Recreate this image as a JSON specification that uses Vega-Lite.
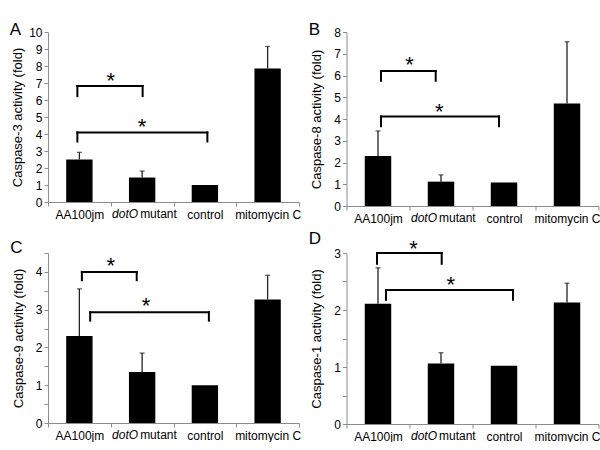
{
"$schema":"https://vega.github.io/schema/vega-lite/v6.json",
"background":"white",
"padding":{"left":9,"top":21,"right":0,"bottom":0},
"align":"each",
"columns":2,
"spacing":{"row":6,"column":7.5},
"datasets":{
"bars":[
{"panel":"A","group":"AA100jm","value":2.5,"upper":2.92},
{"panel":"A","group":"dotO mutant","value":1.44,"upper":1.82},
{"panel":"A","group":"control","value":1.0,"upper":null},
{"panel":"A","group":"mitomycin C","value":7.85,"upper":9.15},
{"panel":"B","group":"AA100jm","value":2.3,"upper":3.45},
{"panel":"B","group":"dotO mutant","value":1.12,"upper":1.43},
{"panel":"B","group":"control","value":1.08,"upper":null},
{"panel":"B","group":"mitomycin C","value":4.71,"upper":7.55},
{"panel":"C","group":"AA100jm","value":2.3,"upper":3.55},
{"panel":"C","group":"dotO mutant","value":1.35,"upper":1.85},
{"panel":"C","group":"control","value":1.0,"upper":null},
{"panel":"C","group":"mitomycin C","value":3.27,"upper":3.91},
{"panel":"D","group":"AA100jm","value":2.11,"upper":2.74},
{"panel":"D","group":"dotO mutant","value":1.06,"upper":1.25},
{"panel":"D","group":"control","value":1.02,"upper":null},
{"panel":"D","group":"mitomycin C","value":2.13,"upper":2.47}
],
"brackets":[
{"panel":"A","id":1,"from":"AA100jm","to":"dotO mutant","top":6.82,"low":6.23,"star":7.47},
{"panel":"A","id":2,"from":"AA100jm","to":"control","top":4.09,"low":3.56,"star":4.78},
{"panel":"B","id":1,"from":"AA100jm","to":"dotO mutant","top":6.21,"low":5.76,"star":6.74},
{"panel":"B","id":2,"from":"AA100jm","to":"control","top":4.12,"low":3.67,"star":4.62},
{"panel":"C","id":1,"from":"AA100jm","to":"dotO mutant","top":4.0,"low":3.78,"star":4.31},
{"panel":"C","id":2,"from":"AA100jm","to":"control","top":2.93,"low":2.71,"star":3.26},
{"panel":"D","id":1,"from":"AA100jm","to":"dotO mutant","top":3.0,"low":2.81,"star":3.17},
{"panel":"D","id":2,"from":"AA100jm","to":"control","top":2.35,"low":2.18,"star":2.54}
]
},
"concat":[
{
"width":251,"height":170,
"title":{"text":"A","anchor":"start","frame":"bounds","offset":-26,"baseline":"alphabetic","fontSize":17,"fontWeight":"normal","color":"black","dx":-2},
"layer":[
{"data":{"name":"bars"},"transform":[{"filter":"datum.panel == 'A'"}],"mark":{"type":"bar","color":"black","width":{"band":0.42}},"encoding":{"x":{"field":"group","type":"nominal","scale":{"domain":["AA100jm","dotO mutant","control","mitomycin C"],"paddingInner":0,"paddingOuter":0},"axis":{"title":null,"labelExpr":"datum.value == 'dotO mutant' ? '' : datum.label"}},"y":{"field":"value","type":"quantitative","scale":{"domain":[0,10],"nice":false},"axis":{"title":"Caspase-3 activity (fold)","tickCount":10,"labelOverlap":false,"titlePadding":4}}}},
{"data":{"name":"bars"},"transform":[{"filter":"datum.panel == 'A' && isValid(datum.upper)"}],"mark":{"type":"rule","color":"#222","strokeWidth":1.3},"encoding":{"x":{"field":"group","type":"nominal","scale":{"domain":["AA100jm","dotO mutant","control","mitomycin C"],"paddingInner":0,"paddingOuter":0}},"y":{"field":"value","type":"quantitative","scale":{"domain":[0,10],"nice":false}},"y2":{"field":"upper"}}},
{"data":{"name":"bars"},"transform":[{"filter":"datum.panel == 'A' && isValid(datum.upper)"}],"mark":{"type":"tick","color":"#222","size":5,"thickness":1.3},"encoding":{"x":{"field":"group","type":"nominal","scale":{"domain":["AA100jm","dotO mutant","control","mitomycin C"],"paddingInner":0,"paddingOuter":0}},"y":{"field":"upper","type":"quantitative","scale":{"domain":[0,10],"nice":false}}}},
{"data":{"name":"bars"},"transform":[{"filter":"datum.panel == 'A' && datum.group == 'dotO mutant'"}],"mark":{"type":"text","text":"dotO","fontStyle":"italic","fontSize":12,"align":"right","baseline":"top","dx":-4,"dy":7},"encoding":{"x":{"field":"group","type":"nominal","scale":{"domain":["AA100jm","dotO mutant","control","mitomycin C"],"paddingInner":0,"paddingOuter":0}},"y":{"datum":0,"type":"quantitative","scale":{"domain":[0,10],"nice":false}}}},
{"data":{"name":"bars"},"transform":[{"filter":"datum.panel == 'A' && datum.group == 'dotO mutant'"}],"mark":{"type":"text","text":"mutant","fontSize":12,"align":"left","baseline":"top","dx":-2,"dy":7},"encoding":{"x":{"field":"group","type":"nominal","scale":{"domain":["AA100jm","dotO mutant","control","mitomycin C"],"paddingInner":0,"paddingOuter":0}},"y":{"datum":0,"type":"quantitative","scale":{"domain":[0,10],"nice":false}}}},
{"data":{"name":"brackets"},"transform":[{"filter":"datum.panel == 'A' && datum.id == 1"}],"mark":{"type":"rule","color":"black","strokeWidth":2,"strokeCap":"square","xOffset":-2,"x2Offset":0.5},"encoding":{"x":{"field":"from","type":"nominal","scale":{"domain":["AA100jm","dotO mutant","control","mitomycin C"],"paddingInner":0,"paddingOuter":0}},"x2":{"field":"to"},"y":{"field":"top","type":"quantitative","scale":{"domain":[0,10],"nice":false}}}},
{"data":{"name":"brackets"},"transform":[{"filter":"datum.panel == 'A' && datum.id == 1"}],"mark":{"type":"rule","color":"black","strokeWidth":2,"strokeCap":"square","xOffset":-2},"encoding":{"x":{"field":"from","type":"nominal","scale":{"domain":["AA100jm","dotO mutant","control","mitomycin C"],"paddingInner":0,"paddingOuter":0}},"y":{"field":"low","type":"quantitative","scale":{"domain":[0,10],"nice":false}},"y2":{"field":"top"}}},
{"data":{"name":"brackets"},"transform":[{"filter":"datum.panel == 'A' && datum.id == 1"}],"mark":{"type":"rule","color":"black","strokeWidth":2,"strokeCap":"square","xOffset":0.5},"encoding":{"x":{"field":"to","type":"nominal","scale":{"domain":["AA100jm","dotO mutant","control","mitomycin C"],"paddingInner":0,"paddingOuter":0}},"y":{"field":"low","type":"quantitative","scale":{"domain":[0,10],"nice":false}},"y2":{"field":"top"}}},
{"data":{"name":"brackets"},"transform":[{"filter":"datum.panel == 'A' && datum.id == 1"}],"mark":{"type":"text","text":"*","fontSize":22,"baseline":"middle","dy":6,"xOffset":0},"encoding":{"x":{"field":"from","type":"nominal","bandPosition":1,"scale":{"domain":["AA100jm","dotO mutant","control","mitomycin C"],"paddingInner":0,"paddingOuter":0}},"y":{"field":"star","type":"quantitative","scale":{"domain":[0,10],"nice":false}}}},
{"data":{"name":"brackets"},"transform":[{"filter":"datum.panel == 'A' && datum.id == 2"}],"mark":{"type":"rule","color":"black","strokeWidth":2,"strokeCap":"square","xOffset":-2,"x2Offset":2.5},"encoding":{"x":{"field":"from","type":"nominal","scale":{"domain":["AA100jm","dotO mutant","control","mitomycin C"],"paddingInner":0,"paddingOuter":0}},"x2":{"field":"to"},"y":{"field":"top","type":"quantitative","scale":{"domain":[0,10],"nice":false}}}},
{"data":{"name":"brackets"},"transform":[{"filter":"datum.panel == 'A' && datum.id == 2"}],"mark":{"type":"rule","color":"black","strokeWidth":2,"strokeCap":"square","xOffset":-2},"encoding":{"x":{"field":"from","type":"nominal","scale":{"domain":["AA100jm","dotO mutant","control","mitomycin C"],"paddingInner":0,"paddingOuter":0}},"y":{"field":"low","type":"quantitative","scale":{"domain":[0,10],"nice":false}},"y2":{"field":"top"}}},
{"data":{"name":"brackets"},"transform":[{"filter":"datum.panel == 'A' && datum.id == 2"}],"mark":{"type":"rule","color":"black","strokeWidth":2,"strokeCap":"square","xOffset":2.5},"encoding":{"x":{"field":"to","type":"nominal","scale":{"domain":["AA100jm","dotO mutant","control","mitomycin C"],"paddingInner":0,"paddingOuter":0}},"y":{"field":"low","type":"quantitative","scale":{"domain":[0,10],"nice":false}},"y2":{"field":"top"}}},
{"data":{"name":"brackets"},"transform":[{"filter":"datum.panel == 'A' && datum.id == 2"}],"mark":{"type":"text","text":"*","fontSize":22,"baseline":"middle","dy":6,"xOffset":0},"encoding":{"x":{"field":"from","type":"nominal","bandPosition":1.5,"scale":{"domain":["AA100jm","dotO mutant","control","mitomycin C"],"paddingInner":0,"paddingOuter":0}},"y":{"field":"star","type":"quantitative","scale":{"domain":[0,10],"nice":false}}}}
]
},
{
"width":252,"height":174,
"title":{"text":"B","anchor":"start","frame":"bounds","offset":-26,"baseline":"alphabetic","fontSize":17,"fontWeight":"normal","color":"black","dx":-2},
"layer":[
{"data":{"name":"bars"},"transform":[{"filter":"datum.panel == 'B'"}],"mark":{"type":"bar","color":"black","width":{"band":0.42}},"encoding":{"x":{"field":"group","type":"nominal","scale":{"domain":["AA100jm","dotO mutant","control","mitomycin C"],"paddingInner":0,"paddingOuter":0},"axis":{"title":null,"labelExpr":"datum.value == 'dotO mutant' ? '' : datum.label"}},"y":{"field":"value","type":"quantitative","scale":{"domain":[0,8],"nice":false},"axis":{"title":"Caspase-8 activity (fold)","tickCount":8,"labelOverlap":false,"titlePadding":10}}}},
{"data":{"name":"bars"},"transform":[{"filter":"datum.panel == 'B' && isValid(datum.upper)"}],"mark":{"type":"rule","color":"#222","strokeWidth":1.3},"encoding":{"x":{"field":"group","type":"nominal","scale":{"domain":["AA100jm","dotO mutant","control","mitomycin C"],"paddingInner":0,"paddingOuter":0}},"y":{"field":"value","type":"quantitative","scale":{"domain":[0,8],"nice":false}},"y2":{"field":"upper"}}},
{"data":{"name":"bars"},"transform":[{"filter":"datum.panel == 'B' && isValid(datum.upper)"}],"mark":{"type":"tick","color":"#222","size":5,"thickness":1.3},"encoding":{"x":{"field":"group","type":"nominal","scale":{"domain":["AA100jm","dotO mutant","control","mitomycin C"],"paddingInner":0,"paddingOuter":0}},"y":{"field":"upper","type":"quantitative","scale":{"domain":[0,8],"nice":false}}}},
{"data":{"name":"bars"},"transform":[{"filter":"datum.panel == 'B' && datum.group == 'dotO mutant'"}],"mark":{"type":"text","text":"dotO","fontStyle":"italic","fontSize":12,"align":"right","baseline":"top","dx":-4,"dy":7},"encoding":{"x":{"field":"group","type":"nominal","scale":{"domain":["AA100jm","dotO mutant","control","mitomycin C"],"paddingInner":0,"paddingOuter":0}},"y":{"datum":0,"type":"quantitative","scale":{"domain":[0,8],"nice":false}}}},
{"data":{"name":"bars"},"transform":[{"filter":"datum.panel == 'B' && datum.group == 'dotO mutant'"}],"mark":{"type":"text","text":"mutant","fontSize":12,"align":"left","baseline":"top","dx":-2,"dy":7},"encoding":{"x":{"field":"group","type":"nominal","scale":{"domain":["AA100jm","dotO mutant","control","mitomycin C"],"paddingInner":0,"paddingOuter":0}},"y":{"datum":0,"type":"quantitative","scale":{"domain":[0,8],"nice":false}}}},
{"data":{"name":"brackets"},"transform":[{"filter":"datum.panel == 'B' && datum.id == 1"}],"mark":{"type":"rule","color":"black","strokeWidth":2,"strokeCap":"square","xOffset":3,"x2Offset":-5.3},"encoding":{"x":{"field":"from","type":"nominal","scale":{"domain":["AA100jm","dotO mutant","control","mitomycin C"],"paddingInner":0,"paddingOuter":0}},"x2":{"field":"to"},"y":{"field":"top","type":"quantitative","scale":{"domain":[0,8],"nice":false}}}},
{"data":{"name":"brackets"},"transform":[{"filter":"datum.panel == 'B' && datum.id == 1"}],"mark":{"type":"rule","color":"black","strokeWidth":2,"strokeCap":"square","xOffset":3},"encoding":{"x":{"field":"from","type":"nominal","scale":{"domain":["AA100jm","dotO mutant","control","mitomycin C"],"paddingInner":0,"paddingOuter":0}},"y":{"field":"low","type":"quantitative","scale":{"domain":[0,8],"nice":false}},"y2":{"field":"top"}}},
{"data":{"name":"brackets"},"transform":[{"filter":"datum.panel == 'B' && datum.id == 1"}],"mark":{"type":"rule","color":"black","strokeWidth":2,"strokeCap":"square","xOffset":-5.3},"encoding":{"x":{"field":"to","type":"nominal","scale":{"domain":["AA100jm","dotO mutant","control","mitomycin C"],"paddingInner":0,"paddingOuter":0}},"y":{"field":"low","type":"quantitative","scale":{"domain":[0,8],"nice":false}},"y2":{"field":"top"}}},
{"data":{"name":"brackets"},"transform":[{"filter":"datum.panel == 'B' && datum.id == 1"}],"mark":{"type":"text","text":"*","fontSize":22,"baseline":"middle","dy":6,"xOffset":0},"encoding":{"x":{"field":"from","type":"nominal","bandPosition":1,"scale":{"domain":["AA100jm","dotO mutant","control","mitomycin C"],"paddingInner":0,"paddingOuter":0}},"y":{"field":"star","type":"quantitative","scale":{"domain":[0,8],"nice":false}}}},
{"data":{"name":"brackets"},"transform":[{"filter":"datum.panel == 'B' && datum.id == 2"}],"mark":{"type":"rule","color":"black","strokeWidth":2,"strokeCap":"square","xOffset":3,"x2Offset":-5},"encoding":{"x":{"field":"from","type":"nominal","scale":{"domain":["AA100jm","dotO mutant","control","mitomycin C"],"paddingInner":0,"paddingOuter":0}},"x2":{"field":"to"},"y":{"field":"top","type":"quantitative","scale":{"domain":[0,8],"nice":false}}}},
{"data":{"name":"brackets"},"transform":[{"filter":"datum.panel == 'B' && datum.id == 2"}],"mark":{"type":"rule","color":"black","strokeWidth":2,"strokeCap":"square","xOffset":3},"encoding":{"x":{"field":"from","type":"nominal","scale":{"domain":["AA100jm","dotO mutant","control","mitomycin C"],"paddingInner":0,"paddingOuter":0}},"y":{"field":"low","type":"quantitative","scale":{"domain":[0,8],"nice":false}},"y2":{"field":"top"}}},
{"data":{"name":"brackets"},"transform":[{"filter":"datum.panel == 'B' && datum.id == 2"}],"mark":{"type":"rule","color":"black","strokeWidth":2,"strokeCap":"square","xOffset":-5},"encoding":{"x":{"field":"to","type":"nominal","scale":{"domain":["AA100jm","dotO mutant","control","mitomycin C"],"paddingInner":0,"paddingOuter":0}},"y":{"field":"low","type":"quantitative","scale":{"domain":[0,8],"nice":false}},"y2":{"field":"top"}}},
{"data":{"name":"brackets"},"transform":[{"filter":"datum.panel == 'B' && datum.id == 2"}],"mark":{"type":"text","text":"*","fontSize":22,"baseline":"middle","dy":6,"xOffset":-1.7},"encoding":{"x":{"field":"from","type":"nominal","bandPosition":1.5,"scale":{"domain":["AA100jm","dotO mutant","control","mitomycin C"],"paddingInner":0,"paddingOuter":0}},"y":{"field":"star","type":"quantitative","scale":{"domain":[0,8],"nice":false}}}}
]
},
{
"width":251,"height":170,
"title":{"text":"C","anchor":"start","frame":"bounds","offset":-23,"baseline":"alphabetic","fontSize":17,"fontWeight":"normal","color":"black","dx":-2},
"layer":[
{"data":{"name":"bars"},"transform":[{"filter":"datum.panel == 'C'"}],"mark":{"type":"bar","color":"black","width":{"band":0.42}},"encoding":{"x":{"field":"group","type":"nominal","scale":{"domain":["AA100jm","dotO mutant","control","mitomycin C"],"paddingInner":0,"paddingOuter":0},"axis":{"title":null,"labelExpr":"datum.value == 'dotO mutant' ? '' : datum.label"}},"y":{"field":"value","type":"quantitative","scale":{"domain":[0,4.5],"nice":false},"axis":{"title":"Caspase-9 activity (fold)","tickCount":9,"labelOverlap":false,"labelExpr":"datum.value % 1 == 0 ? format(datum.value, 'd') : ''","titlePadding":10}}}},
{"data":{"name":"bars"},"transform":[{"filter":"datum.panel == 'C' && isValid(datum.upper)"}],"mark":{"type":"rule","color":"#222","strokeWidth":1.3},"encoding":{"x":{"field":"group","type":"nominal","scale":{"domain":["AA100jm","dotO mutant","control","mitomycin C"],"paddingInner":0,"paddingOuter":0}},"y":{"field":"value","type":"quantitative","scale":{"domain":[0,4.5],"nice":false}},"y2":{"field":"upper"}}},
{"data":{"name":"bars"},"transform":[{"filter":"datum.panel == 'C' && isValid(datum.upper)"}],"mark":{"type":"tick","color":"#222","size":5,"thickness":1.3},"encoding":{"x":{"field":"group","type":"nominal","scale":{"domain":["AA100jm","dotO mutant","control","mitomycin C"],"paddingInner":0,"paddingOuter":0}},"y":{"field":"upper","type":"quantitative","scale":{"domain":[0,4.5],"nice":false}}}},
{"data":{"name":"bars"},"transform":[{"filter":"datum.panel == 'C' && datum.group == 'dotO mutant'"}],"mark":{"type":"text","text":"dotO","fontStyle":"italic","fontSize":12,"align":"right","baseline":"top","dx":-4,"dy":7},"encoding":{"x":{"field":"group","type":"nominal","scale":{"domain":["AA100jm","dotO mutant","control","mitomycin C"],"paddingInner":0,"paddingOuter":0}},"y":{"datum":0,"type":"quantitative","scale":{"domain":[0,4.5],"nice":false}}}},
{"data":{"name":"bars"},"transform":[{"filter":"datum.panel == 'C' && datum.group == 'dotO mutant'"}],"mark":{"type":"text","text":"mutant","fontSize":12,"align":"left","baseline":"top","dx":-2,"dy":7},"encoding":{"x":{"field":"group","type":"nominal","scale":{"domain":["AA100jm","dotO mutant","control","mitomycin C"],"paddingInner":0,"paddingOuter":0}},"y":{"datum":0,"type":"quantitative","scale":{"domain":[0,4.5],"nice":false}}}},
{"data":{"name":"brackets"},"transform":[{"filter":"datum.panel == 'C' && datum.id == 1"}],"mark":{"type":"rule","color":"black","strokeWidth":2,"strokeCap":"square","xOffset":2.5,"x2Offset":-5.4},"encoding":{"x":{"field":"from","type":"nominal","scale":{"domain":["AA100jm","dotO mutant","control","mitomycin C"],"paddingInner":0,"paddingOuter":0}},"x2":{"field":"to"},"y":{"field":"top","type":"quantitative","scale":{"domain":[0,4.5],"nice":false}}}},
{"data":{"name":"brackets"},"transform":[{"filter":"datum.panel == 'C' && datum.id == 1"}],"mark":{"type":"rule","color":"black","strokeWidth":2,"strokeCap":"square","xOffset":2.5},"encoding":{"x":{"field":"from","type":"nominal","scale":{"domain":["AA100jm","dotO mutant","control","mitomycin C"],"paddingInner":0,"paddingOuter":0}},"y":{"field":"low","type":"quantitative","scale":{"domain":[0,4.5],"nice":false}},"y2":{"field":"top"}}},
{"data":{"name":"brackets"},"transform":[{"filter":"datum.panel == 'C' && datum.id == 1"}],"mark":{"type":"rule","color":"black","strokeWidth":2,"strokeCap":"square","xOffset":-5.4},"encoding":{"x":{"field":"to","type":"nominal","scale":{"domain":["AA100jm","dotO mutant","control","mitomycin C"],"paddingInner":0,"paddingOuter":0}},"y":{"field":"low","type":"quantitative","scale":{"domain":[0,4.5],"nice":false}},"y2":{"field":"top"}}},
{"data":{"name":"brackets"},"transform":[{"filter":"datum.panel == 'C' && datum.id == 1"}],"mark":{"type":"text","text":"*","fontSize":22,"baseline":"middle","dy":6,"xOffset":0},"encoding":{"x":{"field":"from","type":"nominal","bandPosition":1,"scale":{"domain":["AA100jm","dotO mutant","control","mitomycin C"],"paddingInner":0,"paddingOuter":0}},"y":{"field":"star","type":"quantitative","scale":{"domain":[0,4.5],"nice":false}}}},
{"data":{"name":"brackets"},"transform":[{"filter":"datum.panel == 'C' && datum.id == 2"}],"mark":{"type":"rule","color":"black","strokeWidth":2,"strokeCap":"square","xOffset":10.8,"x2Offset":4},"encoding":{"x":{"field":"from","type":"nominal","scale":{"domain":["AA100jm","dotO mutant","control","mitomycin C"],"paddingInner":0,"paddingOuter":0}},"x2":{"field":"to"},"y":{"field":"top","type":"quantitative","scale":{"domain":[0,4.5],"nice":false}}}},
{"data":{"name":"brackets"},"transform":[{"filter":"datum.panel == 'C' && datum.id == 2"}],"mark":{"type":"rule","color":"black","strokeWidth":2,"strokeCap":"square","xOffset":10.8},"encoding":{"x":{"field":"from","type":"nominal","scale":{"domain":["AA100jm","dotO mutant","control","mitomycin C"],"paddingInner":0,"paddingOuter":0}},"y":{"field":"low","type":"quantitative","scale":{"domain":[0,4.5],"nice":false}},"y2":{"field":"top"}}},
{"data":{"name":"brackets"},"transform":[{"filter":"datum.panel == 'C' && datum.id == 2"}],"mark":{"type":"rule","color":"black","strokeWidth":2,"strokeCap":"square","xOffset":4},"encoding":{"x":{"field":"to","type":"nominal","scale":{"domain":["AA100jm","dotO mutant","control","mitomycin C"],"paddingInner":0,"paddingOuter":0}},"y":{"field":"low","type":"quantitative","scale":{"domain":[0,4.5],"nice":false}},"y2":{"field":"top"}}},
{"data":{"name":"brackets"},"transform":[{"filter":"datum.panel == 'C' && datum.id == 2"}],"mark":{"type":"text","text":"*","fontSize":22,"baseline":"middle","dy":6,"xOffset":4},"encoding":{"x":{"field":"from","type":"nominal","bandPosition":1.5,"scale":{"domain":["AA100jm","dotO mutant","control","mitomycin C"],"paddingInner":0,"paddingOuter":0}},"y":{"field":"star","type":"quantitative","scale":{"domain":[0,4.5],"nice":false}}}}
]
},
{
"width":252,"height":171,
"title":{"text":"D","anchor":"start","frame":"bounds","offset":-23,"baseline":"alphabetic","fontSize":17,"fontWeight":"normal","color":"black","dx":-2},
"layer":[
{"data":{"name":"bars"},"transform":[{"filter":"datum.panel == 'D'"}],"mark":{"type":"bar","color":"black","width":{"band":0.42}},"encoding":{"x":{"field":"group","type":"nominal","scale":{"domain":["AA100jm","dotO mutant","control","mitomycin C"],"paddingInner":0,"paddingOuter":0},"axis":{"title":null,"labelExpr":"datum.value == 'dotO mutant' ? '' : datum.label"}},"y":{"field":"value","type":"quantitative","scale":{"domain":[0,3],"nice":false},"axis":{"title":"Caspase-1 activity (fold)","tickCount":6,"labelOverlap":false,"labelExpr":"datum.value % 1 == 0 ? format(datum.value, 'd') : ''","titlePadding":10}}}},
{"data":{"name":"bars"},"transform":[{"filter":"datum.panel == 'D' && isValid(datum.upper)"}],"mark":{"type":"rule","color":"#222","strokeWidth":1.3},"encoding":{"x":{"field":"group","type":"nominal","scale":{"domain":["AA100jm","dotO mutant","control","mitomycin C"],"paddingInner":0,"paddingOuter":0}},"y":{"field":"value","type":"quantitative","scale":{"domain":[0,3],"nice":false}},"y2":{"field":"upper"}}},
{"data":{"name":"bars"},"transform":[{"filter":"datum.panel == 'D' && isValid(datum.upper)"}],"mark":{"type":"tick","color":"#222","size":5,"thickness":1.3},"encoding":{"x":{"field":"group","type":"nominal","scale":{"domain":["AA100jm","dotO mutant","control","mitomycin C"],"paddingInner":0,"paddingOuter":0}},"y":{"field":"upper","type":"quantitative","scale":{"domain":[0,3],"nice":false}}}},
{"data":{"name":"bars"},"transform":[{"filter":"datum.panel == 'D' && datum.group == 'dotO mutant'"}],"mark":{"type":"text","text":"dotO","fontStyle":"italic","fontSize":12,"align":"right","baseline":"top","dx":-4,"dy":7},"encoding":{"x":{"field":"group","type":"nominal","scale":{"domain":["AA100jm","dotO mutant","control","mitomycin C"],"paddingInner":0,"paddingOuter":0}},"y":{"datum":0,"type":"quantitative","scale":{"domain":[0,3],"nice":false}}}},
{"data":{"name":"bars"},"transform":[{"filter":"datum.panel == 'D' && datum.group == 'dotO mutant'"}],"mark":{"type":"text","text":"mutant","fontSize":12,"align":"left","baseline":"top","dx":-2,"dy":7},"encoding":{"x":{"field":"group","type":"nominal","scale":{"domain":["AA100jm","dotO mutant","control","mitomycin C"],"paddingInner":0,"paddingOuter":0}},"y":{"datum":0,"type":"quantitative","scale":{"domain":[0,3],"nice":false}}}},
{"data":{"name":"brackets"},"transform":[{"filter":"datum.panel == 'D' && datum.id == 1"}],"mark":{"type":"rule","color":"black","strokeWidth":2,"strokeCap":"square","xOffset":-1,"x2Offset":0.7},"encoding":{"x":{"field":"from","type":"nominal","scale":{"domain":["AA100jm","dotO mutant","control","mitomycin C"],"paddingInner":0,"paddingOuter":0}},"x2":{"field":"to"},"y":{"field":"top","type":"quantitative","scale":{"domain":[0,3],"nice":false}}}},
{"data":{"name":"brackets"},"transform":[{"filter":"datum.panel == 'D' && datum.id == 1"}],"mark":{"type":"rule","color":"black","strokeWidth":2,"strokeCap":"square","xOffset":-1},"encoding":{"x":{"field":"from","type":"nominal","scale":{"domain":["AA100jm","dotO mutant","control","mitomycin C"],"paddingInner":0,"paddingOuter":0}},"y":{"field":"low","type":"quantitative","scale":{"domain":[0,3],"nice":false}},"y2":{"field":"top"}}},
{"data":{"name":"brackets"},"transform":[{"filter":"datum.panel == 'D' && datum.id == 1"}],"mark":{"type":"rule","color":"black","strokeWidth":2,"strokeCap":"square","xOffset":0.7},"encoding":{"x":{"field":"to","type":"nominal","scale":{"domain":["AA100jm","dotO mutant","control","mitomycin C"],"paddingInner":0,"paddingOuter":0}},"y":{"field":"low","type":"quantitative","scale":{"domain":[0,3],"nice":false}},"y2":{"field":"top"}}},
{"data":{"name":"brackets"},"transform":[{"filter":"datum.panel == 'D' && datum.id == 1"}],"mark":{"type":"text","text":"*","fontSize":22,"baseline":"middle","dy":6,"xOffset":4},"encoding":{"x":{"field":"from","type":"nominal","bandPosition":1,"scale":{"domain":["AA100jm","dotO mutant","control","mitomycin C"],"paddingInner":0,"paddingOuter":0}},"y":{"field":"star","type":"quantitative","scale":{"domain":[0,3],"nice":false}}}},
{"data":{"name":"brackets"},"transform":[{"filter":"datum.panel == 'D' && datum.id == 2"}],"mark":{"type":"rule","color":"black","strokeWidth":2,"strokeCap":"square","xOffset":8,"x2Offset":9},"encoding":{"x":{"field":"from","type":"nominal","scale":{"domain":["AA100jm","dotO mutant","control","mitomycin C"],"paddingInner":0,"paddingOuter":0}},"x2":{"field":"to"},"y":{"field":"top","type":"quantitative","scale":{"domain":[0,3],"nice":false}}}},
{"data":{"name":"brackets"},"transform":[{"filter":"datum.panel == 'D' && datum.id == 2"}],"mark":{"type":"rule","color":"black","strokeWidth":2,"strokeCap":"square","xOffset":8},"encoding":{"x":{"field":"from","type":"nominal","scale":{"domain":["AA100jm","dotO mutant","control","mitomycin C"],"paddingInner":0,"paddingOuter":0}},"y":{"field":"low","type":"quantitative","scale":{"domain":[0,3],"nice":false}},"y2":{"field":"top"}}},
{"data":{"name":"brackets"},"transform":[{"filter":"datum.panel == 'D' && datum.id == 2"}],"mark":{"type":"rule","color":"black","strokeWidth":2,"strokeCap":"square","xOffset":9},"encoding":{"x":{"field":"to","type":"nominal","scale":{"domain":["AA100jm","dotO mutant","control","mitomycin C"],"paddingInner":0,"paddingOuter":0}},"y":{"field":"low","type":"quantitative","scale":{"domain":[0,3],"nice":false}},"y2":{"field":"top"}}},
{"data":{"name":"brackets"},"transform":[{"filter":"datum.panel == 'D' && datum.id == 2"}],"mark":{"type":"text","text":"*","fontSize":22,"baseline":"middle","dy":6,"xOffset":9.7},"encoding":{"x":{"field":"from","type":"nominal","bandPosition":1.5,"scale":{"domain":["AA100jm","dotO mutant","control","mitomycin C"],"paddingInner":0,"paddingOuter":0}},"y":{"field":"star","type":"quantitative","scale":{"domain":[0,3],"nice":false}}}}
]
}
],
"config":{
"view":{"stroke":null},
"font":"Liberation Sans",
"title":{"font":"Liberation Sans"},
"text":{"font":"Liberation Sans","color":"black"},
"axis":{"domainColor":"#8c8c8c","tickColor":"#8c8c8c","labelColor":"black","titleColor":"black","labelFont":"Liberation Sans","titleFont":"Liberation Sans","labelFontSize":12,"titleFontSize":13,"titleFontWeight":"normal","tickSize":4,"grid":false,"domainWidth":1,"tickWidth":1,"labelOverlap":false},
"axisX":{"labelAngle":0,"tickBand":"extent","labelPadding":3},
"axisY":{"labelPadding":2}
}
}
